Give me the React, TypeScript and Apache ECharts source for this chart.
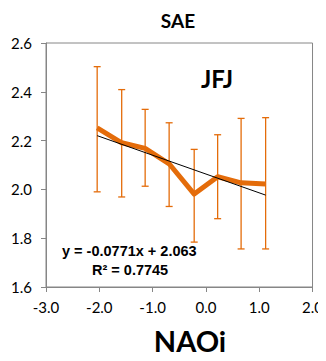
import React, { useEffect, useRef } from "react";
import * as echarts from "echarts";

const xValues = [-2.04, -1.58, -1.14, -0.69, -0.22, 0.22, 0.66, 1.12];
const yValues = [2.252, 2.191, 2.168, 2.105, 1.981, 2.052, 2.027, 2.022];
const errHigh = [2.503, 2.409, 2.328, 2.273, 2.164, 2.224, 2.291, 2.294];
const errLow = [1.99, 1.969, 2.013, 1.93, 1.784, 1.88, 1.756, 1.756];
const slope = -0.0771;
const intercept = 2.063;
const eqText = "y = -0.0771x + 2.063";
const r2Text = "R² = 0.7745";

const ORANGE = "#E46C0A";
const GRAY = "#868686";
const FONT = "Lato";
const EQ_FONT = "Liberation Sans";

export default function App() {
  const ref = useRef<HTMLDivElement>(null);
  useEffect(() => {
    if (!ref.current) return;
    const chart = echarts.init(ref.current, undefined, { renderer: "svg" });
    const xMin = Math.min(...xValues);
    const xMax = Math.max(...xValues);
    const txt = (text: string, x: number, y: number, size: number, align: string, family: string) => ({
      type: "text",
      x,
      y,
      style: {
        text,
        fontFamily: family,
        fontWeight: "bold",
        fontSize: size,
        fill: "#000",
        align,
        verticalAlign: "middle",
      },
    });
    chart.setOption({
      animation: false,
      grid: {
        left: 46,
        right: 6,
        top: 43,
        bottom: 74,
        show: true,
        borderColor: GRAY,
        borderWidth: 1,
        backgroundColor: "transparent",
      },
      title: [
        {
          text: "SAE",
          left: 173,
          top: 6,
          textAlign: "center",
          textStyle: { fontFamily: FONT, fontWeight: "bold", fontSize: 19, color: "#000" },
        },
      ],
      graphic: [
        txt("JFJ", 217, 78, 24, "center", FONT),
        txt("NAOi", 190, 340, 29, "center", FONT),
        txt(eqText, 62, 251, 14.5, "left", EQ_FONT),
        txt(r2Text, 92, 270, 14.5, "left", EQ_FONT),
      ],
      xAxis: {
        type: "value",
        min: -3,
        max: 2,
        interval: 1,
        splitLine: { show: false },
        axisLine: { show: true, onZero: false, lineStyle: { color: GRAY } },
        axisTick: { show: true, length: 5, lineStyle: { color: GRAY } },
        axisLabel: {
          formatter: (v: number) => v.toFixed(1),
          fontFamily: FONT,
          fontSize: 15,
          color: "#000",
          margin: 12,
        },
      },
      yAxis: {
        type: "value",
        min: 1.6,
        max: 2.6,
        interval: 0.2,
        splitLine: { show: false },
        axisLine: { show: true, onZero: false, lineStyle: { color: GRAY } },
        axisTick: { show: true, length: 5, lineStyle: { color: GRAY } },
        axisLabel: {
          formatter: (v: number) => v.toFixed(1),
          fontFamily: FONT,
          fontSize: 15,
          color: "#000",
          margin: 14,
        },
      },
      series: [
        {
          type: "custom",
          data: xValues.map((x, i) => [x, errLow[i], errHigh[i]]),
          renderItem: (params: any, api: any) => {
            const x = api.value(0);
            const lo = api.coord([x, api.value(1)]);
            const hi = api.coord([x, api.value(2)]);
            const cap = 3.5;
            const style = { stroke: ORANGE, lineWidth: 1.3 };
            return {
              type: "group",
              children: [
                { type: "line", shape: { x1: lo[0], y1: lo[1], x2: hi[0], y2: hi[1] }, style },
                { type: "line", shape: { x1: hi[0] - cap, y1: hi[1], x2: hi[0] + cap, y2: hi[1] }, style },
                { type: "line", shape: { x1: lo[0] - cap, y1: lo[1], x2: lo[0] + cap, y2: lo[1] }, style },
              ],
            };
          },
          z: 2,
        },
        {
          type: "line",
          data: xValues.map((x, i) => [x, yValues[i]]),
          symbol: "none",
          lineStyle: { color: ORANGE, width: 5, join: "round" },
          z: 3,
        },
        {
          type: "line",
          data: [
            [xMin, slope * xMin + intercept],
            [xMax, slope * xMax + intercept],
          ],
          symbol: "none",
          lineStyle: { color: "#000", width: 1 },
          z: 4,
        },
      ],
    });
    return () => chart.dispose();
  }, []);
  return <div ref={ref} style={{ width: 326, height: 361, margin: -8 }} />;
}
